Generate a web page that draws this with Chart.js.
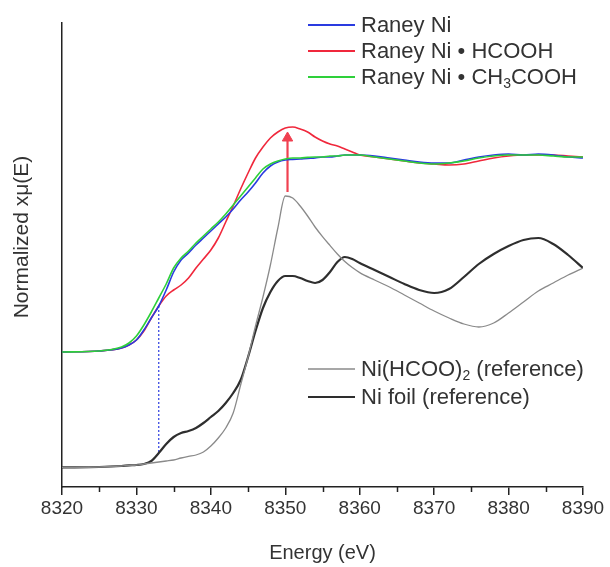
<!DOCTYPE html>
<html>
<head>
<meta charset="utf-8">
<script src="https://cdn.jsdelivr.net/npm/chart.js@4.4.1/dist/chart.umd.min.js"></script>
<style>
  html, body { margin: 0; padding: 0; background: #ffffff; }
  #wrap { width: 610px; height: 567px; }
</style>
</head>
<body>
<div id="wrap"><canvas id="c" width="610" height="567"></canvas></div>
<script>
// ---- Data ----
const energy = [8320, 8325, 8328, 8329, 8330, 8331, 8332, 8333, 8334, 8335, 8336, 8337, 8338, 8339, 8340, 8341, 8342, 8343, 8344, 8345, 8346, 8347, 8348, 8349, 8350, 8351, 8352, 8353, 8354, 8355, 8356, 8357, 8358, 8359, 8360, 8362, 8364, 8366, 8368, 8370, 8372, 8374, 8376, 8378, 8380, 8382, 8384, 8386, 8388, 8390];

const raneyNi = [0.675, 0.680, 0.695, 0.710, 0.735, 0.785, 0.845, 0.905, 0.985, 1.075, 1.135, 1.170, 1.210, 1.245, 1.280, 1.315, 1.350, 1.390, 1.435, 1.475, 1.520, 1.570, 1.605, 1.625, 1.635, 1.638, 1.640, 1.643, 1.645, 1.650, 1.650, 1.655, 1.660, 1.660, 1.660, 1.655, 1.645, 1.635, 1.625, 1.620, 1.620, 1.635, 1.650, 1.660, 1.665, 1.660, 1.665, 1.660, 1.650, 1.645];

const raneyHCOOH = [0.675, 0.680, 0.695, 0.710, 0.735, 0.780, 0.845, 0.905, 0.955, 0.985, 1.010, 1.045, 1.095, 1.140, 1.185, 1.245, 1.325, 1.405, 1.490, 1.570, 1.645, 1.700, 1.745, 1.775, 1.795, 1.800, 1.790, 1.775, 1.750, 1.730, 1.715, 1.705, 1.690, 1.675, 1.660, 1.650, 1.640, 1.630, 1.620, 1.615, 1.610, 1.615, 1.630, 1.645, 1.655, 1.660, 1.660, 1.660, 1.655, 1.650];

const raneyCH3COOH = [0.675, 0.680, 0.700, 0.720, 0.755, 0.810, 0.875, 0.945, 1.015, 1.095, 1.145, 1.180, 1.220, 1.255, 1.290, 1.325, 1.365, 1.410, 1.455, 1.500, 1.545, 1.590, 1.615, 1.630, 1.640, 1.645, 1.645, 1.648, 1.650, 1.650, 1.655, 1.655, 1.660, 1.660, 1.660, 1.650, 1.640, 1.630, 1.620, 1.615, 1.620, 1.630, 1.645, 1.655, 1.660, 1.660, 1.660, 1.655, 1.650, 1.650];

const niFormateRef = [0.098, 0.100, 0.105, 0.108, 0.110, 0.115, 0.120, 0.125, 0.130, 0.135, 0.145, 0.153, 0.160, 0.175, 0.205, 0.245, 0.295, 0.370, 0.510, 0.650, 0.805, 0.950, 1.110, 1.295, 1.455, 1.445, 1.405, 1.355, 1.300, 1.252, 1.208, 1.165, 1.127, 1.097, 1.072, 1.035, 1.000, 0.960, 0.920, 0.880, 0.845, 0.815, 0.800, 0.820, 0.870, 0.925, 0.980, 1.020, 1.060, 1.095];

const niFoilRef = [0.098, 0.100, 0.105, 0.108, 0.110, 0.115, 0.130, 0.170, 0.215, 0.250, 0.270, 0.280, 0.295, 0.320, 0.350, 0.380, 0.420, 0.470, 0.535, 0.650, 0.780, 0.895, 0.975, 1.030, 1.055, 1.055, 1.045, 1.030, 1.020, 1.035, 1.075, 1.125, 1.150, 1.140, 1.120, 1.085, 1.050, 1.015, 0.985, 0.970, 0.990, 1.050, 1.115, 1.165, 1.205, 1.235, 1.245, 1.215, 1.160, 1.095];

const xTickValues = [8320, 8330, 8340, 8350, 8360, 8370, 8380, 8390];
const xMinorTickValues = [8325, 8335, 8345, 8355, 8365, 8375, 8385];

const edgeEnergy = 8333;          // dotted blue marker
const arrowEnergy = 8350.3;       // red arrow
const arrowBase = 1.475;
const arrowHead = 1.745;

const seriesNames = ['Raney Ni', 'Raney Ni \u2022 HCOOH', 'Raney Ni \u2022 CH3COOH', 'Ni(HCOO)2 (reference)', 'Ni foil (reference)'];

// ---- Build datasets ----
function pts(ys) { return energy.map((e, i) => ({ x: e, y: ys[i] })); }
const iEdge = energy.indexOf(edgeEnergy);

const COLORS = {
  blue: '#2a3be0', red: '#f0283c', green: '#2ed03a', gray: '#8a8a8a', foil: '#2e2e2e'
};
const FONT = '"Liberation Sans", Arial, Helvetica, sans-serif';

const lineBase = { fill: false, pointRadius: 0, cubicInterpolationMode: 'monotone' };

const datasets = [
  Object.assign({ label: seriesNames[3], data: pts(niFormateRef), borderColor: COLORS.gray, borderWidth: 1.3 }, lineBase),
  Object.assign({ label: seriesNames[4], data: pts(niFoilRef), borderColor: COLORS.foil, borderWidth: 2.2 }, lineBase),
  { label: 'edge', data: [{ x: edgeEnergy, y: raneyHCOOH[iEdge] }, { x: edgeEnergy, y: niFoilRef[iEdge] }],
    borderColor: '#2a3be0', borderWidth: 1.2, borderDash: [2, 2], pointRadius: 0, fill: false },
  Object.assign({ label: seriesNames[2], data: pts(raneyCH3COOH), borderColor: COLORS.green, borderWidth: 1.6 }, lineBase),
  Object.assign({ label: seriesNames[0], data: pts(raneyNi), borderColor: COLORS.blue, borderWidth: 1.6 }, lineBase),
  Object.assign({ label: seriesNames[1], data: pts(raneyHCOOH), borderColor: COLORS.red, borderWidth: 1.6 }, lineBase),
  { label: 'arrow', data: [{ x: arrowEnergy, y: arrowBase }, { x: arrowEnergy, y: arrowHead }],
    borderColor: '#f04050', borderWidth: 2.2, fill: false,
    pointStyle: 'triangle', pointRadius: [0, 6], pointBackgroundColor: '#f04050', pointBorderColor: '#f04050', pointBorderWidth: 1 }
];

// ---- Custom drawing: minor ticks, axis titles, legends ----
const LEGEND_SIZE = 22;
function drawRich(ctx, parts, x, y, size) {
  let cx = x;
  for (const p of parts) {
    if (p.sub) {
      ctx.font = Math.round(size * 0.62) + 'px ' + FONT;
      ctx.fillText(p.t, cx, y + size * 0.28);
    } else {
      ctx.font = size + 'px ' + FONT;
      ctx.fillText(p.t, cx, y);
    }
    cx += ctx.measureText(p.t).width;
  }
}

const legendRows = [
  { color: COLORS.blue, width: 2, y: 25, parts: [{ t: 'Raney Ni' }] },
  { color: COLORS.red, width: 2, y: 51, parts: [{ t: 'Raney Ni \u2022 HCOOH' }] },
  { color: COLORS.green, width: 2, y: 77, parts: [{ t: 'Raney Ni \u2022 CH' }, { t: '3', sub: true }, { t: 'COOH' }] },
  { color: COLORS.gray, width: 1.3, y: 369, parts: [{ t: 'Ni(HCOO)' }, { t: '2', sub: true }, { t: ' (reference)' }] },
  { color: COLORS.foil, width: 2.2, y: 397, parts: [{ t: 'Ni foil (reference)' }] }
];

const decorPlugin = {
  id: 'decor',
  afterDraw(chart) {
    const ctx = chart.ctx;
    const xs = chart.scales.x;
    const area = chart.chartArea;
    ctx.save();
    // minor ticks
    ctx.strokeStyle = '#222';
    ctx.lineWidth = 1.5;
    for (const v of xMinorTickValues) {
      const px = Math.round(xs.getPixelForValue(v)) + 0.5;
      ctx.beginPath();
      ctx.moveTo(px, area.bottom);
      ctx.lineTo(px, area.bottom + 5);
      ctx.stroke();
    }
    // axis titles
    ctx.fillStyle = '#333';
    ctx.textBaseline = 'middle';
    ctx.textAlign = 'center';
    ctx.font = '20px ' + FONT;
    ctx.fillText('Energy (eV)', (area.left + area.right) / 2, 553);
    ctx.save();
    ctx.translate(22, 237);
    ctx.rotate(-Math.PI / 2);
    ctx.font = '21px ' + FONT;
    ctx.fillText('Normalized x\u03bc(E)', 0, 0);
    ctx.restore();
    // legends
    ctx.textAlign = 'left';
    for (const r of legendRows) {
      ctx.strokeStyle = r.color;
      ctx.lineWidth = r.width;
      ctx.beginPath();
      ctx.moveTo(308, r.y);
      ctx.lineTo(355, r.y);
      ctx.stroke();
      ctx.fillStyle = '#333';
      drawRich(ctx, r.parts, 361, r.y + 1, LEGEND_SIZE);
    }
    ctx.restore();
  }
};

new Chart(document.getElementById('c'), {
  type: 'line',
  data: { datasets },
  options: {
    responsive: false,
    animation: false,
    devicePixelRatio: 1,
    layout: { padding: { top: 23, right: 27, left: 0, bottom: 0 } },
    plugins: { legend: { display: false }, tooltip: { enabled: false } },
    scales: {
      x: {
        type: 'linear', min: 8320, max: 8390,
        afterFit(s) { s.height = 80; },
        afterBuildTicks(s) { s.ticks = xTickValues.map(v => ({ value: v })); },
        ticks: { color: '#333', font: { family: FONT, size: 19 }, padding: 2, maxRotation: 0,
                 callback: v => String(v) },
        grid: { display: true, drawOnChartArea: false, drawTicks: true, tickLength: 8, color: '#222', lineWidth: 1.5 },
        border: { display: true, color: '#222', width: 1.5 },
        title: { display: false }
      },
      y: {
        type: 'linear', min: 0, max: 2.32,
        afterFit(s) { s.width = 62; },
        ticks: { display: false },
        grid: { display: false, drawTicks: false },
        border: { display: true, color: '#222', width: 1.5 },
        title: { display: false }
      }
    }
  },
  plugins: [decorPlugin]
});
</script>
</body>
</html>
